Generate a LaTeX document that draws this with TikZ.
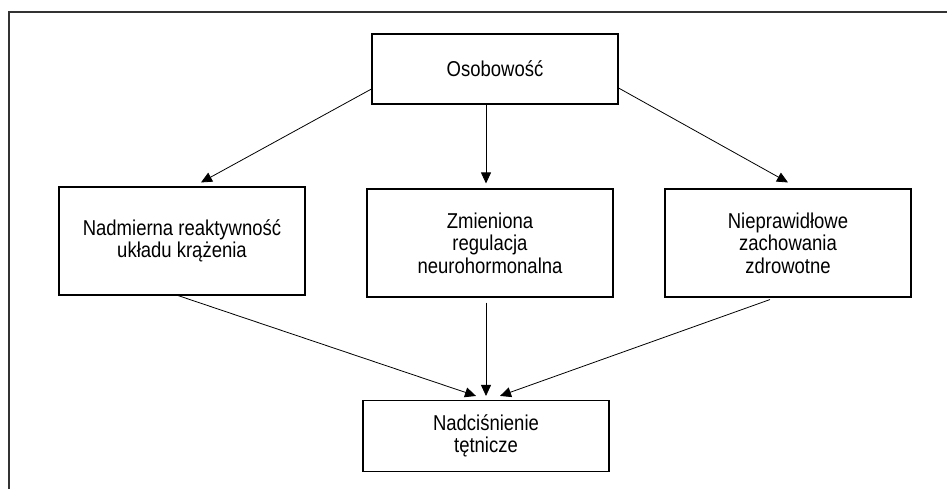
\documentclass[tikz,border=0pt]{standalone}
\usepackage{fontspec}
\setmainfont{Liberation Sans}[FakeStretch=0.86]
\usetikzlibrary{arrows.meta}

\begin{document}
\begin{tikzpicture}[x=1pt, y=-1pt,
	box/.style={draw, line width=1.1pt, align=center, minimum width=246pt,
		font=\fontsize{21.5}{22.5}\selectfont},
	arr/.style={line width=0.8pt, -{Triangle[length=11pt, width=10pt]}}]
	\useasboundingbox (0,0) rectangle (947,489);
	\draw[line width=1.5pt, black!80] (947,12) -- (9,12) -- (9,489);

	\node[box, minimum height=70pt]  (osob)  at (495, 69)  {Osobowość};
	\node[box, minimum height=108pt] (nadm)  at (182, 241) {Nadmierna reaktywność\\układu krążenia};
	\node[box, minimum height=108pt] (zmien) at (490, 243) {Zmieniona\\regulacja\\neurohormonalna};
	\node[box, minimum height=108pt] (niepr) at (788, 243) {Nieprawidłowe\\zachowania\\zdrowotne};
	\node[box, minimum height=71pt]  (nadc)  at (486, 436) {Nadciśnienie\\tętnicze};

	\draw[arr] ([yshift=-20pt]osob.west)  -- ([xshift=19pt, yshift=4pt]nadm.north);
	\draw[arr] ([xshift=-9pt]osob.south)  -- ([xshift=-4pt, yshift=5pt]zmien.north);
	\draw[arr] ([yshift=-19pt]osob.east)  -- ([yshift=6pt]niepr.north);

	\draw[arr] ([xshift=-4pt, yshift=0pt]nadm.south)    -- ([xshift=-10pt, yshift=4pt]nadc.north);
	\draw[arr] ([xshift=-4pt, yshift=-5pt]zmien.south)  -- ([yshift=4pt]nadc.north);
	\draw[arr] ([xshift=-18pt, yshift=-2pt]niepr.south) -- ([xshift=14pt, yshift=4pt]nadc.north);
\end{tikzpicture}
\end{document}
